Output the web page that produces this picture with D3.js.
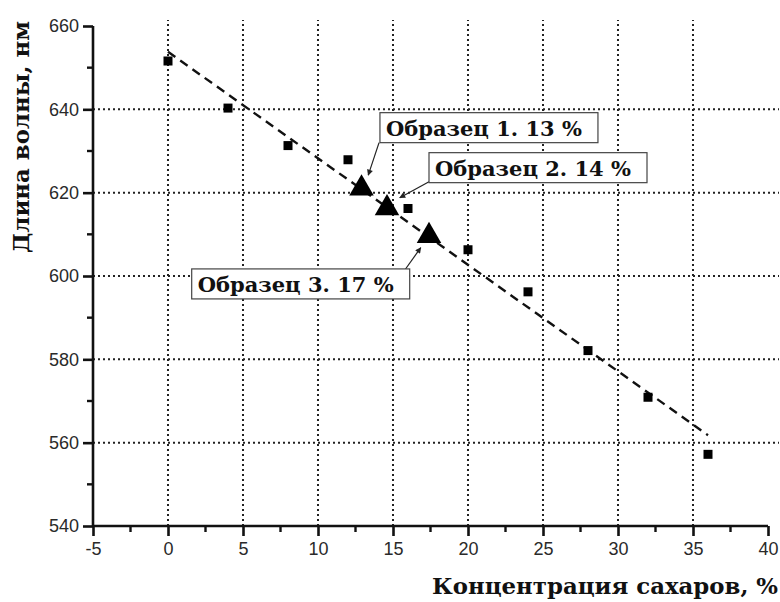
<!DOCTYPE html>
<html>
<head>
<meta charset="utf-8">
<script src="https://cdn.jsdelivr.net/npm/d3@7/dist/d3.min.js"></script>
<style>
  html, body { margin: 0; padding: 0; background: #fff; }
  svg { display: block; }
</style>
</head>
<body>
<script>
// Calibration points: sugar concentration (%) vs. wavelength (nm)
const concentration = [0, 4, 8, 12, 16, 20, 24, 28, 32, 36];
const wavelength = [651.6, 640.3, 631.3, 627.9, 616.2, 606.3, 596.2, 582.1, 570.9, 557.2];

// Linear fit drawn as a dashed line between its two end points
const fitX = [0, 36];
const fitY = [653.8, 561.8];

// Measured samples placed on the calibration line
const sampleX = [12.9, 14.6, 17.4];
const sampleY = [621.0, 616.3, 609.6];
const sampleLabels = ["Образец 1. 13 %", "Образец 2. 14 %", "Образец 3. 17 %"];
// Callout boxes (top-left corner, data units) and arrow tail/head points
const boxX = [14.13, 17.4, 1.58];
const boxY = [639.2, 629.6, 601.7];
const arrowFromX = [14.07, 17.4, 15.8];
const arrowFromY = [632.0, 622.6, 601.5];
const arrowToX = [13.35, 15.45, 16.85];
const arrowToY = [624.2, 618.8, 606.8];

const xTicks = [-5, 0, 5, 10, 15, 20, 25, 30, 35, 40];
const yTicks = [540, 560, 580, 600, 620, 640, 660];
const xGrid = [0, 5, 10, 15, 20, 25, 30, 35];
const yGrid = [560, 580, 600, 620, 640];

const xTitle = "Концентрация сахаров, %";
const yTitle = "Длина волны, нм";

const W = 780, H = 602;
const svg = d3.select("body").append("svg").attr("width", W).attr("height", H);

const x = d3.scaleLinear().domain([-5, 40]).range([93, 768]);
const y = d3.scaleLinear().domain([540, 660]).range([526, 26]);

const ink = "#111";
const tickFont = "'Liberation Sans', Arial, sans-serif";
const titleFont = "'DejaVu Serif', 'Liberation Serif', serif";

// Dotted grid
const grid = svg.append("g")
  .style("stroke", "#222").style("stroke-width", 2)
  .style("stroke-dasharray", "2,3").attr("fill", "none");
grid.selectAll("line.v").data(xGrid).join("line").attr("class", "v")
  .attr("x1", d => x(d)).attr("x2", d => x(d))
  .attr("y1", y(540)).attr("y2", y(660) - 6);
grid.selectAll("line.h").data(yGrid).join("line").attr("class", "h")
  .attr("y1", d => y(d)).attr("y2", d => y(d))
  .attr("x1", x(-5)).attr("x2", 779);

// Axes
const fmt = d => String(d);
const xAxis = d3.axisBottom(x).tickValues(xTicks).tickSize(10).tickPadding(6).tickFormat(fmt);
const yAxis = d3.axisLeft(y).tickValues(yTicks).tickSize(10).tickPadding(4).tickFormat(fmt);

const gx = svg.append("g").attr("transform", `translate(0,${y(540)})`).call(xAxis);
const gy = svg.append("g").attr("transform", `translate(${x(-5)},0)`).call(yAxis);
[gx, gy].forEach(g => {
  g.select(".domain").style("stroke", ink).style("stroke-width", 2.6);
  g.selectAll(".tick line").style("stroke", ink).style("stroke-width", 2.6);
  g.selectAll(".tick text").attr("fill", "#2a2a2a")
    .style("font-family", tickFont).style("font-size", "18px");
});
gx.select(".domain").attr("d", `M${x(-5)},0H${x(40)}`);
gy.select(".domain").attr("d", `M0,${y(540)}V${y(660)}`);

// Minor ticks
const xMinor = d3.range(-2.5, 40, 5);
const yMinor = d3.range(550, 660, 20);
svg.append("g").selectAll("line").data(xMinor).join("line")
  .attr("x1", d => x(d)).attr("x2", d => x(d))
  .attr("y1", y(540)).attr("y2", y(540) + 6)
  .style("stroke", ink).style("stroke-width", 2.4);
svg.append("g").selectAll("line").data(yMinor).join("line")
  .attr("y1", d => y(d)).attr("y2", d => y(d))
  .attr("x1", x(-5) - 6).attr("x2", x(-5))
  .style("stroke", ink).style("stroke-width", 2.4);

// Axis titles
svg.append("text")
  .attr("x", 778).attr("y", 594)
  .attr("text-anchor", "end")
  .attr("textLength", 346).attr("lengthAdjust", "spacingAndGlyphs")
  .style("font-family", titleFont).style("font-weight", "bold").style("font-size", "23px")
  .attr("fill", "#111").text(xTitle);
svg.append("text")
  .attr("transform", "translate(29,137) rotate(-90)")
  .attr("text-anchor", "middle")
  .attr("textLength", 232).attr("lengthAdjust", "spacingAndGlyphs")
  .style("font-family", titleFont).style("font-weight", "bold").style("font-size", "23px")
  .attr("fill", "#111").text(yTitle);

// Fit line
svg.append("path")
  .datum(d3.zip(fitX, fitY))
  .attr("d", d3.line().x(d => x(d[0])).y(d => y(d[1])))
  .attr("fill", "none").style("stroke", ink).style("stroke-width", 2.4)
  .style("stroke-dasharray", "9,6");

// Calibration points
const sq = 9;
svg.append("g").selectAll("rect").data(d3.zip(concentration, wavelength)).join("rect")
  .attr("x", d => x(d[0]) - sq / 2).attr("y", d => y(d[1]) - sq / 2)
  .attr("width", sq).attr("height", sq).attr("fill", "#000");

// Sample triangles
svg.append("g").selectAll("path").data(d3.zip(sampleX, sampleY)).join("path")
  .attr("transform", d => `translate(${x(d[0])},${y(d[1])})`)
  .attr("d", d3.symbol(d3.symbolTriangle).size(260))
  .attr("fill", "#000");

// Arrowhead marker
svg.append("defs").append("marker")
  .attr("id", "ah").attr("viewBox", "0 0 10 10")
  .attr("refX", 9).attr("refY", 5)
  .attr("markerWidth", 8).attr("markerHeight", 6)
  .attr("markerUnits", "userSpaceOnUse")
  .attr("orient", "auto")
  .append("path").attr("d", "M0,0L10,5L0,10z").attr("fill", "#222");

// Callouts
const callouts = svg.append("g");
sampleLabels.forEach((label, i) => {
  const bx = x(boxX[i]), by = y(boxY[i]);
  const bw = 218, bh = 30;
  callouts.append("line")
    .attr("x1", x(arrowFromX[i])).attr("y1", y(arrowFromY[i]))
    .attr("x2", x(arrowToX[i])).attr("y2", y(arrowToY[i]))
    .style("stroke", "#222").style("stroke-width", 1.2)
    .attr("marker-end", "url(#ah)");
  callouts.append("rect")
    .attr("x", bx).attr("y", by).attr("width", bw).attr("height", bh)
    .attr("fill", "#fff").style("stroke", "#444").style("stroke-width", 1.2);
  callouts.append("text")
    .attr("x", bx + 6).attr("y", by + 23)
    .attr("textLength", 196).attr("lengthAdjust", "spacingAndGlyphs")
    .style("font-family", titleFont).style("font-weight", "bold").style("font-size", "21px")
    .attr("fill", "#111").text(label);
});
</script>
</body>
</html>
